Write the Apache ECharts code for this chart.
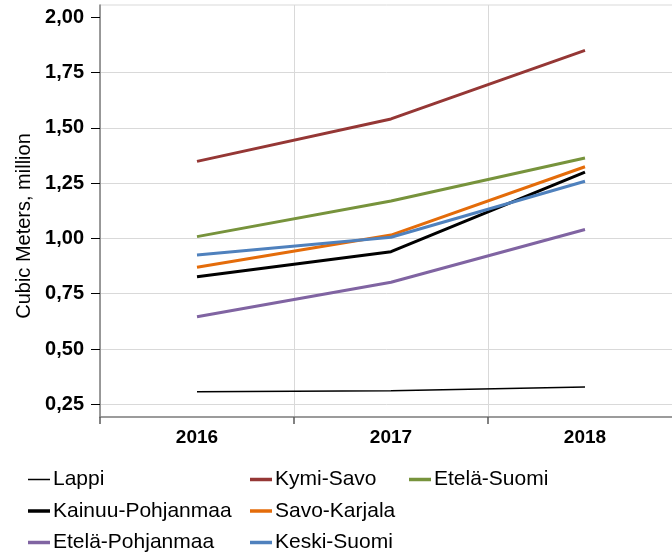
<!DOCTYPE html>
<html>
<head>
<meta charset="utf-8">
<script src="https://cdn.jsdelivr.net/npm/echarts@6/dist/echarts.min.js"></script>
<style>
html,body{margin:0;padding:0;background:#fff;}
#chart{width:672px;height:552px;}
</style>
</head>
<body>
<div id="chart"></div>
<script>
var categories = ['2016', '2017', '2018'];
var yTicks = [0.25, 0.5, 0.75, 1.0, 1.25, 1.5, 1.75, 2.0];
var gridTicks = [0.25, 0.5, 0.75, 1.0, 1.25, 1.5, 1.75];

var lappi = [0.307, 0.311, 0.328];
var kymiSavo = [1.348, 1.540, 1.850];
var etelaSuomi = [1.008, 1.169, 1.363];
var kainuuPohjanmaa = [0.827, 0.940, 1.300];
var savoKarjala = [0.870, 1.015, 1.324];
var etelaPohjanmaa = [0.646, 0.802, 1.040];
var keskiSuomi = [0.925, 1.005, 1.258];

var seriesDefs = [
  {name: 'Lappi', data: lappi, color: '#000000', width: 1.5},
  {name: 'Kymi-Savo', data: kymiSavo, color: '#953735', width: 3},
  {name: 'Etelä-Suomi', data: etelaSuomi, color: '#77933C', width: 3},
  {name: 'Kainuu-Pohjanmaa', data: kainuuPohjanmaa, color: '#000000', width: 3},
  {name: 'Savo-Karjala', data: savoKarjala, color: '#E46C0A', width: 3},
  {name: 'Etelä-Pohjanmaa', data: etelaPohjanmaa, color: '#8064A2', width: 3},
  {name: 'Keski-Suomi', data: keskiSuomi, color: '#4F81BD', width: 3}
];

var yMin = 0.1926, yMax = 2.055;
var FONT = 'Liberation Sans, Arial, sans-serif';

var chart = echarts.init(document.getElementById('chart'), null, {renderer: 'canvas'});

function legendCol(names, left, top, thick) {
  return {
    orient: 'vertical',
    left: left,
    top: top,
    height: 200,
    data: names,
    icon: 'rect',
    itemWidth: 22,
    itemHeight: thick,
    itemGap: 10.5,
    padding: 0,
    textStyle: {fontFamily: FONT, fontSize: 21, lineHeight: 18, color: '#000', padding: [0, 0, 0, -2]},
    selectedMode: false
  };
}

var option = {
  backgroundColor: '#ffffff',
  animation: false,
  grid: {left: 100, top: 5, width: 582, bottom: 135, show: true, borderColor: '#d9d9d9', borderWidth: 1, containLabel: false, outerBoundsMode: 'none'},
  xAxis: {
    type: 'category',
    data: categories,
    boundaryGap: true,
    axisLine: {lineStyle: {color: '#808080', width: 1.5}},
    axisTick: {show: true, inside: false, length: 7, lineStyle: {color: '#595959', width: 1.5}},
    axisLabel: {fontFamily: FONT, fontSize: 19, fontWeight: 'bold', color: '#000', margin: 11},
    splitLine: {show: true, lineStyle: {color: '#d9d9d9', width: 1}}
  },
  yAxis: [{
    type: 'value',
    min: yMin,
    max: yMax,
    name: 'Cubic Meters, million',
    nameLocation: 'middle',
    nameGap: 64,
    nameTextStyle: {fontFamily: FONT, fontSize: 20, color: '#000', padding: [0, 30, 0, 0]},
    axisLine: {show: true, lineStyle: {color: '#808080', width: 1.5}},
    axisTick: {show: true, length: 9, lineStyle: {color: '#000', width: 1}, customValues: yTicks},
    axisLabel: {
      fontFamily: FONT, fontSize: 20, fontWeight: 'bold', color: '#000', margin: 16,
      customValues: yTicks,
      formatter: function (v) { return v.toFixed(2).replace('.', ','); }
    },
    splitLine: {show: false}
  }, {
    type: 'value',
    min: yMin,
    max: yMax,
    position: 'left',
    axisLine: {show: false},
    axisTick: {show: false, customValues: gridTicks},
    axisLabel: {show: false, customValues: gridTicks},
    splitLine: {show: true, lineStyle: {color: '#d9d9d9', width: 1}}
  }],
  legend: [
    legendCol(['Lappi'], 28, 469, 1.5),
    legendCol(['Kainuu-Pohjanmaa', 'Etelä-Pohjanmaa'], 28, 500.5, 3.5),
    legendCol(['Kymi-Savo', 'Savo-Karjala', 'Keski-Suomi'], 250, 469, 3.5),
    legendCol(['Etelä-Suomi'], 409, 469, 3.5)
  ],
  series: seriesDefs.map(function (s) {
    return {
      name: s.name,
      type: 'line',
      data: s.data,
      yAxisIndex: 0,
      symbol: 'none',
      showSymbol: false,
      smooth: false,
      color: s.color,
      lineStyle: {color: s.color, width: s.width}
    };
  })
};
chart.setOption(option);
</script>
</body>
</html>
